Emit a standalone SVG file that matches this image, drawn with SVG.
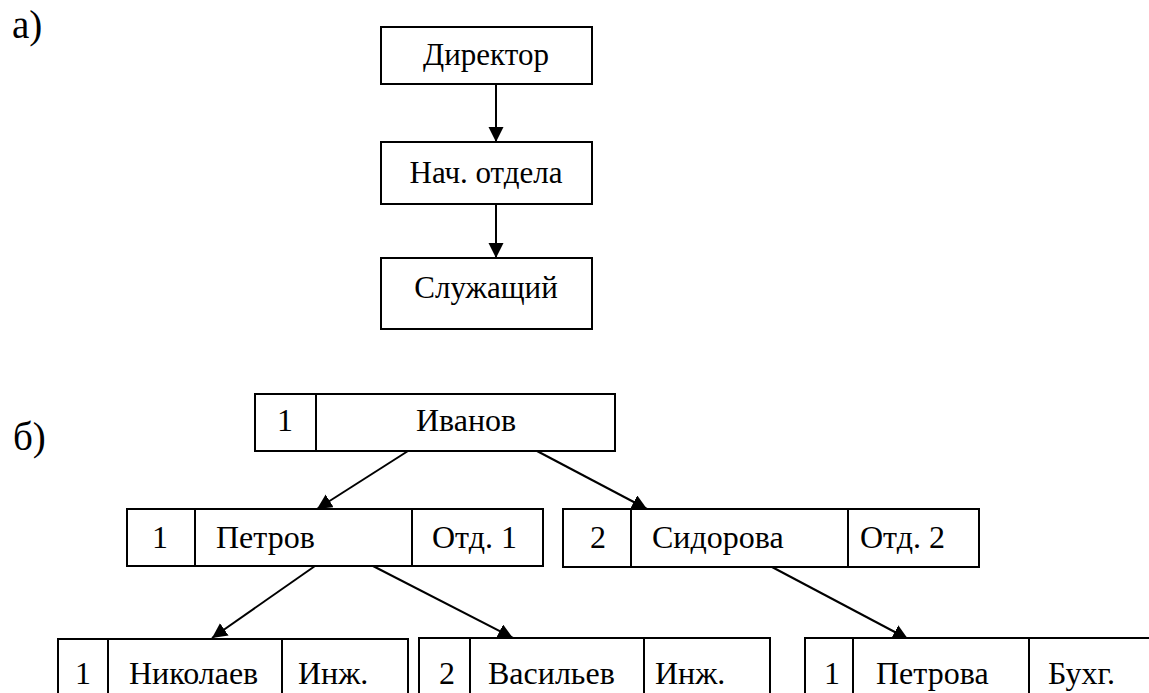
<svg xmlns="http://www.w3.org/2000/svg" width="1149" height="693" viewBox="0 0 1149 693">
<style>
  .box{fill:#fff;stroke:#000;stroke-width:2}
  .div{stroke:#000;stroke-width:2}
  .t{font-size:32px;fill:#000}
  .ta{font-size:31px;fill:#000}
  .c{text-anchor:middle}
  .lbl{font-size:39px;fill:#000}
  .con{stroke:#000;stroke-width:2;fill:none;marker-end:url(#ah)}
</style>
<defs>
  <marker id="ah" markerUnits="userSpaceOnUse" markerWidth="16" markerHeight="16" refX="15" refY="7.5" orient="auto">
    <path d="M0,0 L15,7.5 L0,15 z" fill="#000"/>
  </marker>
</defs>
<rect width="1149" height="693" fill="#fff"/>
<g font-family="Liberation Serif, DejaVu Serif, serif">
<text class="lbl" x="12" y="38">а)</text>
<text class="lbl" x="13" y="450">б)</text>

<g id="connectors">
  <line class="con" x1="496" y1="84" x2="496" y2="142"/>
  <line class="con" x1="496" y1="204" x2="496" y2="258"/>
  <line class="con" x1="408" y1="451" x2="317" y2="509"/>
  <line class="con" x1="537" y1="451" x2="647" y2="509"/>
  <line class="con" x1="315" y1="566" x2="212" y2="638"/>
  <line class="con" x1="373" y1="566" x2="513" y2="638"/>
  <line class="con" x1="772" y1="567" x2="908" y2="639"/>
</g>

<g id="director">
  <rect class="box" x="381" y="27" width="211" height="57"/>
  <text class="ta c" x="486" y="65">Директор</text>
</g>
<g id="nach">
  <rect class="box" x="381" y="142" width="211" height="62"/>
  <text class="ta c" x="486" y="183">Нач. отдела</text>
</g>
<g id="sluzh">
  <rect class="box" x="381" y="258" width="211" height="71"/>
  <text class="ta c" x="486" y="298">Служащий</text>
</g>

<g id="ivanov">
  <rect class="box" x="255" y="394" width="360" height="57"/>
  <line class="div" x1="316" y1="394" x2="316" y2="451"/>
  <text class="t c" x="285" y="431">1</text>
  <text class="t c" x="466" y="431">Иванов</text>
</g>
<g id="petrov">
  <rect class="box" x="127" y="509" width="416" height="57"/>
  <line class="div" x1="195" y1="509" x2="195" y2="566"/>
  <line class="div" x1="412" y1="509" x2="412" y2="566"/>
  <text class="t c" x="160" y="548">1</text>
  <text class="t" x="216" y="548">Петров</text>
  <text class="t" x="432" y="548">Отд. 1</text>
</g>
<g id="sidorova">
  <rect class="box" x="563" y="509" width="416" height="58"/>
  <line class="div" x1="631" y1="509" x2="631" y2="567"/>
  <line class="div" x1="848" y1="509" x2="848" y2="567"/>
  <text class="t c" x="598" y="548">2</text>
  <text class="t" x="652" y="548">Сидорова</text>
  <text class="t" x="860" y="548">Отд. 2</text>
</g>
<g id="nikolaev">
  <rect class="box" x="58" y="639" width="350" height="80"/>
  <line class="div" x1="108" y1="639" x2="108" y2="719"/>
  <line class="div" x1="282" y1="639" x2="282" y2="719"/>
  <text class="t c" x="83" y="684">1</text>
  <text class="t" x="129" y="684">Николаев</text>
  <text class="t" x="298" y="684">Инж.</text>
</g>
<g id="vasiliev">
  <rect class="box" x="419" y="638" width="351" height="80"/>
  <line class="div" x1="470" y1="638" x2="470" y2="718"/>
  <line class="div" x1="644" y1="638" x2="644" y2="718"/>
  <text class="t c" x="447" y="684">2</text>
  <text class="t" x="488" y="684">Васильев</text>
  <text class="t" x="655" y="684">Инж.</text>
</g>
<g id="petrova">
  <rect class="box" x="805" y="638" width="400" height="80"/>
  <line class="div" x1="853" y1="638" x2="853" y2="718"/>
  <line class="div" x1="1029" y1="638" x2="1029" y2="718"/>
  <text class="t c" x="832" y="684">1</text>
  <text class="t" x="876" y="684">Петрова</text>
  <text class="t" x="1048" y="684">Бухг.</text>
</g>
</g>
</svg>
